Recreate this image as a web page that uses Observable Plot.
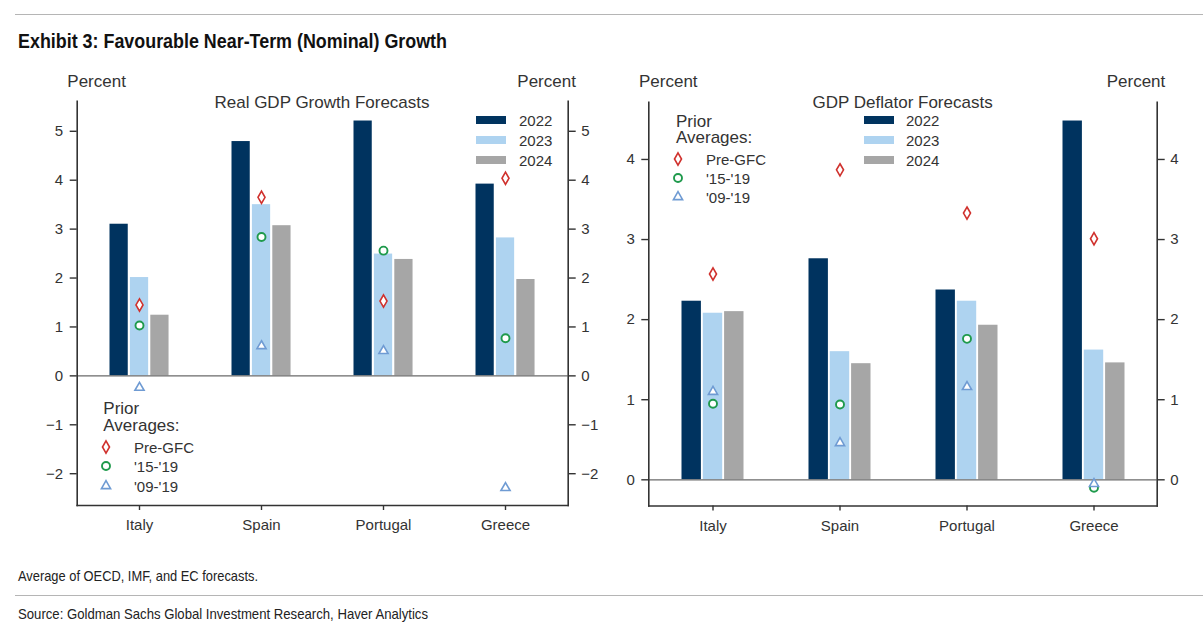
<!DOCTYPE html>
<html><head><meta charset="utf-8">
<script src="https://cdn.jsdelivr.net/npm/d3@7"></script>
<script src="https://cdn.jsdelivr.net/npm/@observablehq/plot@0.6"></script>
<style>
html,body{margin:0;padding:0;background:#fff;}
#root{position:relative;width:1203px;height:630px;overflow:hidden;font-family:"Liberation Sans",Arial,sans-serif;color:#333;}
.abs{position:absolute;white-space:nowrap;line-height:1;}
.hline{position:absolute;height:0;border-top:1.3px solid #b5b5b5;}
.sw{position:absolute;height:8px;width:30px;}
.plotwrap{position:absolute;top:0;}
</style></head><body><div id="root"></div>
<script>
// ---- data ----
const countries = ["Italy", "Spain", "Portugal", "Greece"];
const years = ["2022", "2023", "2024"];
const priorLabels = ["Pre-GFC", "'15-'19", "'09-'19"];

// Real GDP growth forecasts (percent)
const gdp2022 = [3.10, 4.79, 5.21, 3.92];
const gdp2023 = [2.01, 3.50, 2.49, 2.82];
const gdp2024 = [1.24, 3.07, 2.38, 1.97];
const gdpPreGFC = [1.45, 3.65, 1.53, 4.04];
const gdp1519 = [1.03, 2.84, 2.56, 0.77];
const gdp0919 = [-0.24, 0.61, 0.51, -2.29];

// GDP deflator forecasts (percent)
const defl2022 = [2.23, 2.76, 2.37, 4.48];
const defl2023 = [2.08, 1.60, 2.23, 1.62];
const defl2024 = [2.10, 1.45, 1.93, 1.46];
const deflPreGFC = [2.57, 3.87, 3.33, 3.01];
const defl1519 = [0.95, 0.94, 1.76, -0.10];
const defl0919 = [1.10, 0.46, 1.16, -0.05];

const gdpTicks = [-2, -1, 0, 1, 2, 3, 4, 5];
const deflTicks = [0, 1, 2, 3, 4];

// ---- styles ----
const yearColors = ["#00335f", "#aed3f0", "#a6a6a6"];
const symColors = ["#d0312d", "#1f9a4c", "#6f9bd3"];
const symbols = ["diamond", "circle", "triangle"];
const symR = [3.7, 4.0, 3.4];
const symW = [1.6, 1.9, 1.6];
const tickFmt = d3.format("d");

const root = document.getElementById("root");

function panel(cfg) {
  const {yearVals, priorVals, domain, ticks, width, height, mL, mR, mT, mB, inset0, step, barW, left} = cfg;
  const band = (width - mL - mR) / countries.length;
  const bars = [];
  years.forEach((yr, i) => countries.forEach((c, j) => bars.push({country: c, year: yr, value: yearVals[i][j]})));
  const pts = [];
  priorLabels.forEach((p, i) => countries.forEach((c, j) => pts.push({country: c, prior: p, value: priorVals[i][j]})));
  const marks = [];
  years.forEach((yr, i) => {
    marks.push(Plot.barY(bars.filter(d => d.year === yr), {
      x: "country", y: "value", fill: yearColors[i],
      insetLeft: inset0 + i * step,
      insetRight: band - (inset0 + i * step + barW)
    }));
  });
  marks.push(Plot.ruleY([0], {stroke: "#6a6a6a", strokeWidth: 1.3}));
  priorLabels.forEach((p, i) => {
    marks.push(Plot.dot(pts.filter(d => d.prior === p), {
      x: "country", y: "value", symbol: symbols[i], r: symR[i],
      stroke: symColors[i], strokeWidth: symW[i], fill: "white"
    }));
  });
  marks.push(Plot.frame({anchor: "left", stroke: "#333", strokeWidth: 1.6}));
  marks.push(Plot.frame({anchor: "right", stroke: "#333", strokeWidth: 1.6}));
  marks.push(Plot.frame({anchor: "bottom", stroke: "#333", strokeWidth: 1.6}));
  marks.push(Plot.axisY({anchor: "left", ticks, tickFormat: tickFmt, tickSize: 7, tickPadding: 7, fontSize: 15, label: null, strokeWidth: 1.4}));
  marks.push(Plot.axisY({anchor: "right", ticks, tickFormat: tickFmt, tickSize: 7, tickPadding: 6, fontSize: 15, label: null, strokeWidth: 1.4}));
  marks.push(Plot.axisX({anchor: "bottom", tickSize: 5, tickPadding: 9, fontSize: 15, label: null, strokeWidth: 1.4}));
  const svg = Plot.plot({
    width, height, marginLeft: mL, marginRight: mR, marginTop: mT, marginBottom: mB,
    x: {type: "band", domain: countries, padding: 0},
    y: {domain, nice: false},
    style: {background: "transparent", color: "#333", fontFamily: '"Liberation Sans", Arial, sans-serif', overflow: "visible"},
    marks
  });
  const wrap = document.createElement("div");
  wrap.className = "plotwrap";
  wrap.style.left = left + "px";
  wrap.appendChild(svg);
  root.appendChild(wrap);
}

panel({
  yearVals: [gdp2022, gdp2023, gdp2024],
  priorVals: [gdpPreGFC, gdp1519, gdp0919],
  domain: [-2.65, 5.615], ticks: gdpTicks,
  width: 600, height: 545, mL: 76.7, mR: 32.3, mT: 100.7, mB: 40,
  inset0: 31.5, step: 20.4, barW: 19, left: 0
});
panel({
  yearVals: [defl2022, defl2023, defl2024],
  priorVals: [deflPreGFC, defl1519, defl0919],
  domain: [-0.327, 4.715], ticks: deflTicks,
  width: 603, height: 545, mL: 48.3, mR: 46.3, mT: 101.7, mB: 39.5,
  inset0: 32.5, step: 21.3, barW: 19.5, left: 600
});

// ---- annotations ----
function txt(str, x, y, size, opts = {}) {
  const d = document.createElement("div");
  d.className = "abs";
  d.textContent = str;
  d.style.left = x + "px";
  d.style.top = y + "px";
  d.style.fontSize = size + "px";
  if (opts.weight) d.style.fontWeight = opts.weight;
  if (opts.color) d.style.color = opts.color;
  root.appendChild(d);
  let sx = 1;
  if (opts.fitWidth) sx = opts.fitWidth / d.getBoundingClientRect().width;
  d.style.transformOrigin = "0 50%";
  d.style.transform = `translate(${opts.center ? -50 : 0}%, -50%) scaleX(${sx})`;
}
function hline(x, y, w) {
  const d = document.createElement("div");
  d.className = "hline";
  d.style.left = x + "px"; d.style.top = y + "px"; d.style.width = w + "px";
  root.appendChild(d);
}
function swatch(x, y, color) {
  const d = document.createElement("div");
  d.className = "sw";
  d.style.left = x + "px"; d.style.top = (y - 4) + "px"; d.style.background = color;
  root.appendChild(d);
}
const d3sym = {diamond: d3.symbolDiamond, circle: d3.symbolCircle, triangle: d3.symbolTriangle};
function sym(i, x, y) {
  const ns = "http://www.w3.org/2000/svg";
  const s = document.createElementNS(ns, "svg");
  s.setAttribute("width", 20); s.setAttribute("height", 20);
  s.style.position = "absolute"; s.style.left = (x - 10) + "px"; s.style.top = (y - 10) + "px"; s.style.overflow = "visible";
  const p = document.createElementNS(ns, "path");
  p.setAttribute("d", d3.symbol(d3sym[symbols[i]], Math.PI * symR[i] * symR[i])());
  p.setAttribute("transform", "translate(10,10)");
  p.setAttribute("fill", "white");
  p.setAttribute("stroke", symColors[i]);
  p.setAttribute("stroke-width", symW[i]);
  s.appendChild(p);
  root.appendChild(s);
}

// header / footer
hline(15, 14, 1188);
txt("Exhibit 3: Favourable Near-Term (Nominal) Growth", 18, 40, 21, {weight: "bold", color: "#111", fitWidth: 429});
txt("Average of OECD, IMF, and EC forecasts.", 18, 575, 15, {color: "#222", fitWidth: 240});
hline(15, 595, 1188);
txt("Source: Goldman Sachs Global Investment Research, Haver Analytics", 18, 613, 15, {color: "#222", fitWidth: 410});

// left panel texts
txt("Percent", 67.3, 80.7, 17);
txt("Percent", 517.3, 80.7, 17);
txt("Real GDP Growth Forecasts", 322, 101.7, 17, {center: true});
[120, 140, 160].forEach((y, i) => { swatch(476, y, yearColors[i]); txt(years[i], 519, y, 15); });
txt("Prior", 103.3, 407.7, 17);
txt("Averages:", 103.3, 425, 17);
[446.7, 466.3, 486].forEach((y, i) => { sym(i, 105.7, y); txt(priorLabels[i], 134, y, 15); });

// right panel texts
txt("Percent", 639, 80.7, 17);
txt("Percent", 1106.7, 80.7, 17);
txt("GDP Deflator Forecasts", 902.6, 101.7, 17, {center: true});
[120, 140, 160].forEach((y, i) => { swatch(864, y, yearColors[i]); txt(years[i], 906, y, 15); });
txt("Prior", 676, 120.7, 17);
txt("Averages:", 676, 137.3, 17);
[159, 178.3, 197.3].forEach((y, i) => { sym(i, 678.3, y); txt(priorLabels[i], 706, y, 15); });
</script></body></html>
